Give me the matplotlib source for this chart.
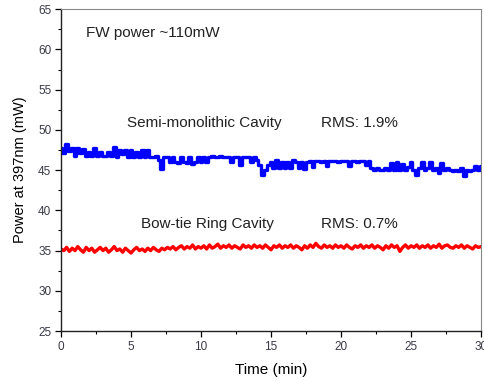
import numpy as np
import matplotlib.pyplot as plt

plt.rcParams["font.family"] = ["Liberation Sans", "DejaVu Sans"]

# power readings every 0.2 min
semi_mono = [
    47.7, 47.1, 48.3, 47.4, 47.8, 46.8, 47.7, 47.1, 47.6, 46.8,
    47.2, 46.7, 47.8, 46.7, 47.2, 46.7, 46.7, 47.3, 46.7, 47.9,
    46.6, 47.5, 47.0, 47.5, 46.6, 47.5, 46.6, 47.3, 46.6, 47.5,
    46.6, 47.5, 46.6, 46.6, 46.8, 46.3, 45.2, 46.6, 46.6, 46.0,
    46.6, 46.0, 45.9, 46.6, 46.0, 45.9, 46.6, 45.8, 46.0, 46.6,
    46.0, 46.6, 46.0, 46.6, 46.7, 46.6, 46.6, 46.8, 46.6, 46.6,
    46.6, 46.0, 46.6, 46.6, 45.6, 46.6, 46.6, 46.6, 46.0, 46.6,
    46.3, 45.6, 44.4, 45.0, 45.6, 46.0, 45.3, 46.2, 45.3, 46.0,
    45.3, 46.0, 45.3, 46.3, 46.0, 45.3, 46.0, 45.2, 46.0, 46.1,
    45.4, 46.1, 46.1, 46.0, 46.1, 45.5, 46.1, 46.1, 46.1, 46.0,
    46.1, 46.1, 46.1, 45.5, 46.1, 46.1, 46.0, 46.1, 46.1, 45.6,
    46.1, 45.3, 45.0, 45.3, 45.0, 45.0, 45.3, 45.0, 45.9, 45.0,
    46.0, 45.0, 45.7, 45.0, 45.4, 46.0, 45.0, 44.4, 45.3, 46.0,
    45.0, 45.3, 46.0, 45.0, 45.3, 44.7, 45.9, 45.0, 45.3, 45.0,
    44.9, 45.0, 44.9, 45.3, 44.3, 45.0, 44.9, 45.0, 45.5, 45.0,
    45.5,
]

bow_tie = [
    35.2, 35.0, 35.4, 34.9, 35.3, 35.0, 35.5, 35.1, 34.8, 35.4,
    35.0, 35.3, 34.8, 35.1, 35.4, 35.0, 35.3, 34.8, 35.1, 35.5,
    35.0, 35.2, 34.8, 35.3, 35.0, 34.7, 35.1, 35.4, 35.0, 35.2,
    34.9, 35.3, 35.0, 35.4, 35.1, 34.9, 35.3, 35.1, 35.4, 35.2,
    35.5, 35.1, 35.4, 35.6, 35.2, 35.5, 35.3, 35.7, 35.2, 35.5,
    35.3, 35.6, 35.2, 35.7, 35.3, 35.5, 35.8, 35.3, 35.6, 35.4,
    35.7, 35.3, 35.6, 35.4, 35.2, 35.7, 35.4, 35.6, 35.3, 35.7,
    35.4, 35.6, 35.3, 35.7, 35.4, 35.1, 35.6, 35.4, 35.7, 35.3,
    35.6, 35.4, 35.7, 35.3, 35.6, 35.4, 35.1, 35.6, 35.3, 35.7,
    35.4, 35.9, 35.5, 35.3, 35.7, 35.4, 35.6, 35.3, 35.7, 35.4,
    35.6, 35.3, 35.7, 35.4, 35.2, 35.6, 35.4, 35.7, 35.3, 35.6,
    35.4, 35.7, 35.3, 35.6, 35.4, 35.1, 35.6, 35.3, 35.7, 35.4,
    35.6, 34.9, 35.4, 35.7, 35.3, 35.6, 35.4, 35.7, 35.3, 35.6,
    35.4, 35.7, 35.3, 35.6, 35.4, 35.8, 35.3, 35.6, 35.7, 35.4,
    35.3, 35.6, 35.4, 35.7, 35.3, 35.6, 35.4, 35.2, 35.6, 35.4,
    35.5,
]

time = np.linspace(0, 30, len(semi_mono))

fig = plt.figure(figsize=(4.84, 3.81), dpi=100)
ax = fig.add_axes([0.126, 0.131, 0.868, 0.845])

ax.plot(time, semi_mono, color="#0000ff", lw=2.4, drawstyle="steps-mid")
ax.plot(time, bow_tie, color="#ff0000", lw=2.4)

ax.set_xlim(0, 30)
ax.set_ylim(25, 65)
ax.set_xticks([0, 5, 10, 15, 20, 25, 30])
ax.set_xticks(np.arange(0, 31, 2.5), minor=True)
ax.set_yticks(range(25, 66, 5))
ax.set_yticks(np.arange(25, 66, 2.5), minor=True)
ax.tick_params(which="major", direction="out", length=4, width=0.9,
               labelsize=8.5, labelcolor="#3a3a48", pad=3)
ax.tick_params(which="minor", direction="out", length=2.5, width=0.8)

for side in ["left", "bottom"]:
    ax.spines[side].set_color("#222222")
    ax.spines[side].set_linewidth(1.0)
for side in ["top", "right"]:
    ax.spines[side].set_color("#888888")
    ax.spines[side].set_linewidth(0.8)

ax.set_xlabel("Time (min)", fontsize=11, labelpad=7)
ax.set_ylabel("Power at 397nm (mW)", fontsize=10.5, labelpad=8)

txt = dict(fontsize=11, color="#222222", va="center", ha="left")
ax.text(1.8, 62.0, "FW power ~110mW", **txt)
ax.text(4.7, 50.8, "Semi-monolithic Cavity", **txt)
ax.text(18.6, 50.8, "RMS: 1.9%", **txt)
ax.text(5.7, 38.3, "Bow-tie Ring Cavity", **txt)
ax.text(18.6, 38.3, "RMS: 0.7%", **txt)

fig.savefig("out.png", dpi=100)
